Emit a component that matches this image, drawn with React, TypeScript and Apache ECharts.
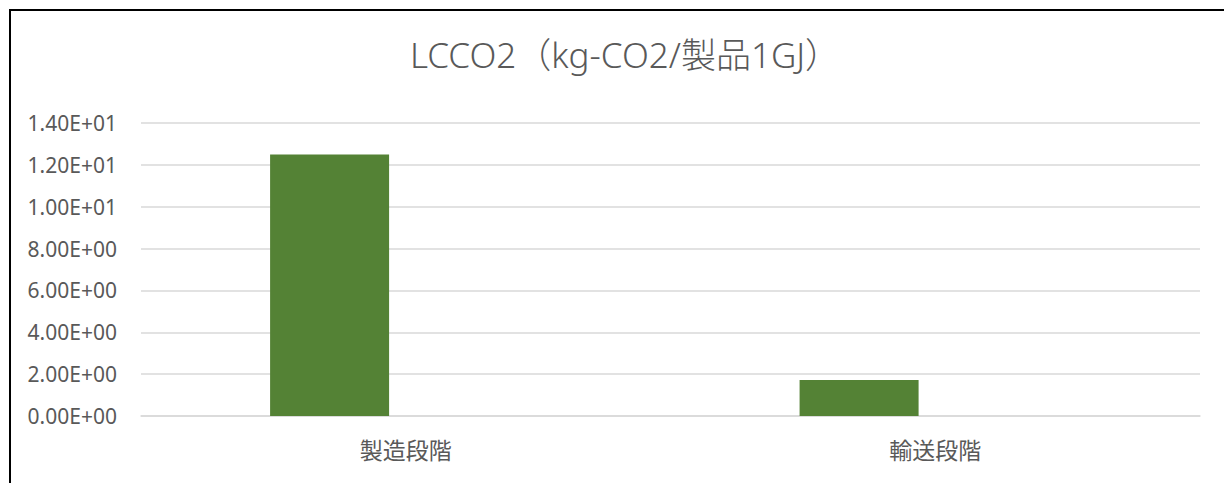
import React, { useEffect, useRef } from "react";
import * as echarts from "echarts";

const titleText = "LCCO2（kg-CO2/製品1GJ）";
const categories = ["製造段階", "輸送段階"];
const lcco2Values = [12.5, 1.72];
const emptyValues: (number | null)[] = [null, null];
const yMin = 0;
const yMax = 14;
const yStep = 2;

const FONT = "'Noto Sans', 'Noto Sans CJK JP', sans-serif";
const CJK = "'Noto Sans CJK JP', sans-serif";
const TEXT = "#595959";

export default function App() {
  const ref = useRef<HTMLDivElement>(null);
  useEffect(() => {
    if (!ref.current) return;
    const chart = echarts.init(ref.current, undefined, { renderer: "svg" });
    chart.setOption({
      animation: false,
      backgroundColor: "#ffffff",
      title: {
        text: titleText,
        left: 620,
        textAlign: "center",
        top: 32,
        textStyle: { fontFamily: FONT, fontSize: 35, fontWeight: 300, color: TEXT },
      },
      grid: { left: 141, right: 24, top: 123, bottom: 67, containLabel: false },
      xAxis: {
        type: "category",
        data: categories,
        axisLine: { show: true, lineStyle: { color: "#d9d9d9", width: 1.5 } },
        axisTick: { show: false },
        axisLabel: { fontFamily: CJK, fontSize: 23, color: TEXT, margin: 21 },
      },
      yAxis: {
        type: "value",
        min: yMin,
        max: yMax,
        interval: yStep,
        axisLine: { show: false },
        axisTick: { show: false },
        splitLine: { lineStyle: { color: "#d9d9d9", width: 1.5 } },
        axisLabel: {
          fontFamily: FONT,
          fontSize: 21,
          color: TEXT,
          margin: 24,
          formatter: (v: number) => {
            const s = v.toExponential(2).toUpperCase();
            return s.replace(/E([+-])(\d)$/, "E$10$2");
          },
        },
      },
      series: [
        {
          type: "bar",
          data: lcco2Values,
          barWidth: 119,
          barGap: "28%",
          itemStyle: { color: "#548235" },
        },
        {
          type: "bar",
          data: emptyValues,
          barWidth: 119,
          itemStyle: { color: "#70ad47" },
        },
      ],
    });
    return () => chart.dispose();
  }, []);
  return (
    <>
      <div
        ref={ref}
        style={{ position: "fixed", left: 0, top: 0, width: 1224, height: 483 }}
      />
      <div
        style={{
          position: "fixed",
          left: 9,
          top: 9,
          width: 1230,
          height: 490,
          borderLeft: "2px solid #000",
          borderTop: "2px solid #000",
          pointerEvents: "none",
        }}
      />
    </>
  );
}
